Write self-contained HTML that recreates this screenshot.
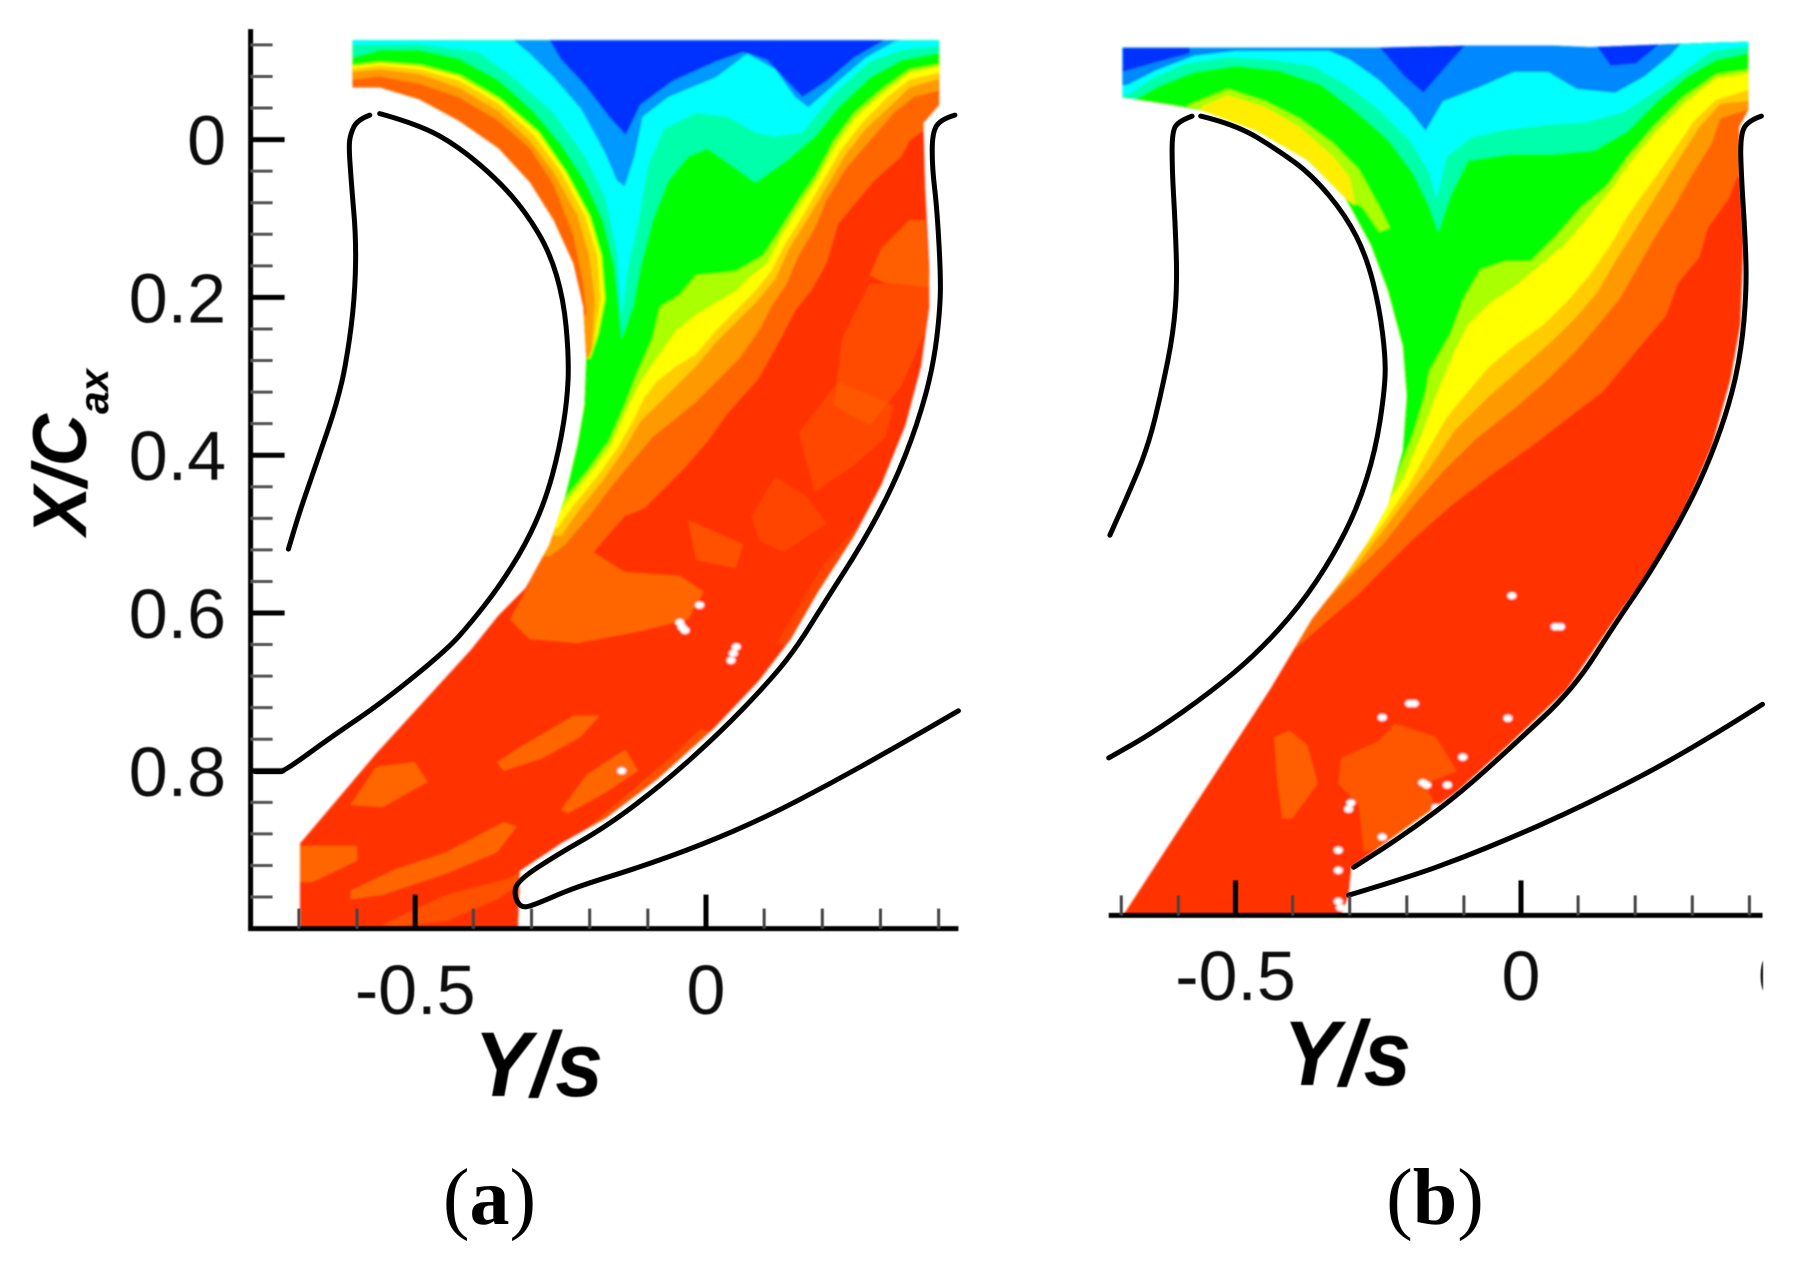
<!DOCTYPE html>
<html lang="en">
<head>
<meta charset="utf-8">
<title>Contour comparison of X/Cax against Y/s</title>
<style>
html,body{margin:0;padding:0;background:#fff;width:1804px;height:1270px;overflow:hidden}
svg{display:block}
text{fill:#111}
.tick{font-family:"Liberation Sans",sans-serif;font-size:70px}
.title{font-family:"Liberation Sans",sans-serif;font-weight:bold;font-style:italic;fill:#000}
.cap{font-family:"Liberation Serif",serif;font-size:80px;fill:#000}
</style>
</head>
<body>
<svg id="chart" xmlns="http://www.w3.org/2000/svg" width="1804" height="1270" viewBox="0 0 1804 1270">
  <defs>
    <filter id="soft" x="-5%" y="-5%" width="110%" height="110%"><feGaussianBlur stdDeviation="1.1"/></filter>
    <filter id="softText" x="-5%" y="-5%" width="110%" height="110%"><feGaussianBlur stdDeviation="0.6"/></filter>
    <clipPath id="clipB"><rect x="1100" y="930" width="663" height="90"/></clipPath>
  </defs>
  <g id="panelA"></g>
  <g id="panelB"></g>
  <g filter="url(#softText)">
    <text class="title" x="474" y="1096" font-size="92" textLength="129" lengthAdjust="spacingAndGlyphs">Y/s</text>
    <text class="title" x="1283" y="1085" font-size="92" textLength="128" lengthAdjust="spacingAndGlyphs">Y/s</text>
    <text class="title" transform="translate(86,535) rotate(-90)" font-size="76" textLength="121" lengthAdjust="spacingAndGlyphs">X/C</text>
    <text class="title" transform="translate(108,414) rotate(-90)" font-size="41" textLength="45" lengthAdjust="spacingAndGlyphs">ax</text>
  </g>
  <text class="cap" x="489.5" y="1224" text-anchor="middle">(<tspan font-weight="bold">a</tspan>)</text>
  <text class="cap" x="1435" y="1224" text-anchor="middle">(<tspan font-weight="bold">b</tspan>)</text>
</svg>
<script>
/* All coordinates below are data values: [Y/s, X/Cax]. */
const yMajorTicks = [0, 0.2, 0.4, 0.6, 0.8];
const yMajorLabels = ['0', '0.2', '0.4', '0.6', '0.8'];
const yMinorTicks = [-0.12, -0.08, -0.04, 0.04, 0.08, 0.12, 0.16, 0.24, 0.28, 0.32, 0.36, 0.44, 0.48, 0.52, 0.56, 0.64, 0.68, 0.72, 0.76, 0.84, 0.88, 0.92, 0.96];
const xMajorTicks = [-0.5, 0];
const xMajorLabelsA = ['-0.5', '0'];
const xMajorLabelTicksB = [-0.5, 0, 0.5];
const xMajorLabelsB = ['-0.5', '0', '0.5'];
const xMinorTicks = [-0.7, -0.6, -0.4, -0.3, -0.2, -0.1, 0.1, 0.2, 0.3, 0.4];

/* ---------- Panel (a) ---------- */
const aBlade1Suction = [[-0.561,-0.033],[-0.493,-0.019],[-0.425,0.009],[-0.357,0.052],[-0.310,0.092],[-0.269,0.142],[-0.245,0.202],[-0.236,0.272],[-0.238,0.327],[-0.252,0.392],[-0.276,0.457],[-0.310,0.513],[-0.357,0.568],[-0.405,0.613],[-0.446,0.647],[-0.556,0.713],[-0.644,0.757],[-0.709,0.792],[-0.730,0.801],[-0.730,0.801],[-0.775,0.801]];
const aBlade1Pressure = [[-0.578,-0.031],[-0.600,-0.025],[-0.612,-0.006],[-0.614,0.012],[-0.609,0.062],[-0.602,0.122],[-0.603,0.187],[-0.612,0.252],[-0.629,0.322],[-0.671,0.413],[-0.698,0.470],[-0.718,0.519]];
const aBlade2Outline = [[0.428,-0.031],[0.404,-0.026],[0.389,-0.009],[0.389,0.036],[0.397,0.087],[0.403,0.162],[0.403,0.212],[0.391,0.287],[0.363,0.362],[0.323,0.437],[0.268,0.513],[0.207,0.583],[0.153,0.647],[0.102,0.692],[0.025,0.751],[-0.073,0.816],[-0.172,0.871],[-0.260,0.908],[-0.325,0.940],[-0.330,0.958],[-0.318,0.974],[-0.295,0.970],[-0.227,0.948],[-0.117,0.923],[-0.008,0.894],[0.102,0.859],[0.212,0.817],[0.321,0.772],[0.434,0.724]];
const aDomain = [[-0.608,-0.126],[0.401,-0.126],[0.401,-0.044],[0.374,-0.021],[0.377,0.062],[0.384,0.162],[0.384,0.212],[0.370,0.287],[0.343,0.362],[0.302,0.437],[0.255,0.502],[0.193,0.573],[0.146,0.633],[0.091,0.686],[0.014,0.746],[-0.084,0.811],[-0.172,0.860],[-0.249,0.892],[-0.320,0.927],[-0.323,1.000],[-0.698,1.000],[-0.698,0.892],[-0.567,0.778],[-0.405,0.647],[-0.357,0.603],[-0.310,0.568],[-0.269,0.513],[-0.242,0.452],[-0.221,0.387],[-0.209,0.337],[-0.206,0.277],[-0.211,0.212],[-0.228,0.157],[-0.262,0.102],[-0.303,0.054],[-0.357,0.011],[-0.425,-0.024],[-0.493,-0.051],[-0.561,-0.066],[-0.608,-0.066]];
const aDarkOrange = [[-0.622,-0.130],[0.409,-0.130],[0.409,-0.030],[0.380,-0.015],[0.350,0.001],[0.336,0.021],[0.289,0.052],[0.255,0.082],[0.227,0.107],[0.207,0.157],[0.180,0.192],[0.153,0.217],[0.132,0.247],[0.091,0.302],[0.037,0.347],[0.003,0.382],[-0.038,0.417],[-0.079,0.447],[-0.106,0.467],[-0.140,0.477],[-0.194,0.523],[-0.140,0.548],[-0.045,0.553],[-0.004,0.573],[-0.031,0.608],[-0.113,0.623],[-0.221,0.638],[-0.303,0.633],[-0.337,0.608],[-0.303,0.563],[-0.357,0.513],[-0.650,0.300]];
const aOrange = [[-0.622,-0.130],[0.409,-0.130],[0.409,-0.064],[0.357,-0.054],[0.323,-0.034],[0.282,0.001],[0.241,0.036],[0.207,0.077],[0.187,0.112],[0.159,0.147],[0.139,0.182],[0.112,0.212],[0.091,0.242],[0.057,0.277],[0.024,0.302],[-0.017,0.332],[-0.058,0.357],[-0.092,0.377],[-0.126,0.407],[-0.160,0.437],[-0.201,0.477],[-0.242,0.513],[-0.269,0.528],[-0.300,0.528],[-0.260,0.400],[-0.225,0.222],[-0.205,0.222],[-0.211,0.182],[-0.228,0.122],[-0.262,0.057],[-0.303,0.011],[-0.357,-0.024],[-0.425,-0.054],[-0.493,-0.071],[-0.561,-0.080],[-0.608,-0.076],[-0.622,-0.076]];
const aAmber = [[-0.622,-0.130],[0.409,-0.130],[0.409,-0.079],[0.350,-0.066],[0.319,-0.044],[0.275,-0.014],[0.238,0.021],[0.204,0.064],[0.176,0.099],[0.142,0.139],[0.119,0.177],[0.085,0.207],[0.051,0.232],[0.017,0.257],[-0.017,0.287],[-0.051,0.312],[-0.085,0.337],[-0.113,0.357],[-0.140,0.392],[-0.177,0.432],[-0.221,0.472],[-0.249,0.502],[-0.300,0.502],[-0.260,0.400],[-0.225,0.277],[-0.198,0.277],[-0.191,0.202],[-0.201,0.147],[-0.221,0.097],[-0.262,0.041],[-0.303,0.001],[-0.357,-0.036],[-0.425,-0.066],[-0.493,-0.083],[-0.561,-0.089],[-0.608,-0.086],[-0.622,-0.086]];
const aYellow = [[-0.622,-0.130],[0.409,-0.130],[0.409,-0.086],[0.350,-0.076],[0.312,-0.054],[0.268,-0.021],[0.231,0.014],[0.197,0.057],[0.170,0.092],[0.136,0.132],[0.112,0.167],[0.078,0.197],[0.044,0.222],[0.017,0.242],[-0.017,0.272],[-0.051,0.287],[-0.085,0.307],[-0.106,0.327],[-0.126,0.357],[-0.153,0.392],[-0.187,0.427],[-0.232,0.467],[-0.255,0.492],[-0.300,0.492],[-0.260,0.400],[-0.225,0.277],[-0.202,0.277],[-0.194,0.262],[-0.181,0.202],[-0.187,0.147],[-0.208,0.097],[-0.249,0.041],[-0.296,-0.006],[-0.357,-0.046],[-0.425,-0.075],[-0.493,-0.089],[-0.561,-0.094],[-0.608,-0.090],[-0.622,-0.090]];
const aLime = [[-0.622,-0.130],[0.409,-0.130],[0.409,-0.094],[0.350,-0.085],[0.306,-0.060],[0.258,-0.029],[0.224,0.006],[0.190,0.052],[0.163,0.082],[0.129,0.122],[0.105,0.157],[0.078,0.172],[0.051,0.192],[0.017,0.207],[-0.017,0.222],[-0.051,0.242],[-0.085,0.277],[-0.113,0.307],[-0.136,0.342],[-0.163,0.387],[-0.198,0.422],[-0.242,0.462],[-0.259,0.482],[-0.300,0.482],[-0.260,0.400],[-0.225,0.277],[-0.201,0.277],[-0.187,0.247],[-0.175,0.202],[-0.181,0.147],[-0.201,0.097],[-0.242,0.041],[-0.289,-0.009],[-0.357,-0.051],[-0.425,-0.080],[-0.493,-0.093],[-0.561,-0.097],[-0.608,-0.093],[-0.622,-0.093]];
const aGreen = [[-0.622,-0.130],[0.409,-0.130],[0.409,-0.097],[0.350,-0.089],[0.302,-0.064],[0.255,-0.034],[0.220,0.001],[0.187,0.047],[0.159,0.077],[0.125,0.117],[0.098,0.147],[0.051,0.167],[-0.017,0.172],[-0.045,0.197],[-0.079,0.212],[-0.092,0.252],[-0.119,0.297],[-0.140,0.337],[-0.167,0.382],[-0.201,0.417],[-0.245,0.457],[-0.262,0.477],[-0.300,0.477],[-0.260,0.400],[-0.225,0.277],[-0.199,0.277],[-0.185,0.247],[-0.173,0.202],[-0.179,0.147],[-0.199,0.097],[-0.240,0.041],[-0.287,-0.010],[-0.355,-0.053],[-0.423,-0.082],[-0.491,-0.095],[-0.561,-0.099],[-0.608,-0.095],[-0.622,-0.095]];
const aAqua = [[-0.622,-0.130],[0.409,-0.130],[0.409,-0.111],[0.336,-0.101],[0.282,-0.079],[0.227,-0.041],[0.187,-0.004],[0.139,0.026],[0.085,0.054],[0.051,0.036],[0.003,0.011],[-0.031,0.021],[-0.065,0.052],[-0.092,0.102],[-0.113,0.162],[-0.126,0.212],[-0.145,0.252],[-0.157,0.162],[-0.177,0.102],[-0.208,0.052],[-0.249,0.006],[-0.296,-0.036],[-0.357,-0.076],[-0.425,-0.103],[-0.493,-0.114],[-0.561,-0.114],[-0.608,-0.104],[-0.622,-0.104]];
const aCyan = [[-0.622,-0.130],[0.409,-0.130],[0.409,-0.119],[0.336,-0.114],[0.282,-0.099],[0.220,-0.059],[0.166,-0.009],[0.119,-0.004],[0.085,-0.009],[0.037,-0.029],[-0.017,-0.034],[-0.072,-0.014],[-0.099,0.031],[-0.116,0.102],[-0.134,0.162],[-0.145,0.222],[-0.153,0.142],[-0.174,0.072],[-0.208,0.021],[-0.262,-0.034],[-0.323,-0.074],[-0.391,-0.111],[-0.493,-0.121],[-0.608,-0.120],[-0.622,-0.120]];
const aLightBlue = [[-0.337,-0.130],[0.357,-0.130],[0.323,-0.124],[0.275,-0.104],[0.227,-0.074],[0.176,-0.041],[0.153,-0.054],[0.119,-0.089],[0.071,-0.109],[0.017,-0.079],[-0.065,-0.054],[-0.109,-0.029],[-0.123,0.021],[-0.140,0.059],[-0.153,0.052],[-0.174,0.016],[-0.215,-0.039],[-0.262,-0.079],[-0.303,-0.109]];
const aBlue = [[-0.272,-0.130],[0.316,-0.130],[0.255,-0.104],[0.207,-0.074],[0.166,-0.054],[0.139,-0.074],[0.105,-0.101],[0.064,-0.111],[0.017,-0.099],[-0.058,-0.074],[-0.113,-0.044],[-0.138,-0.006],[-0.167,-0.029],[-0.208,-0.069],[-0.249,-0.101]];
const aStreak2 = [[-0.359,0.789],[-0.315,0.768],[-0.227,0.730],[-0.183,0.730],[-0.216,0.757],[-0.282,0.784],[-0.348,0.800]];
const aStreak3 = [[-0.611,0.843],[-0.567,0.795],[-0.501,0.789],[-0.479,0.814],[-0.556,0.846]];
const aStreak4 = [[-0.698,0.895],[-0.600,0.895],[-0.600,0.914],[-0.677,0.941],[-0.698,0.941]];
const aStreak5 = [[-0.611,0.952],[-0.534,0.925],[-0.446,0.903],[-0.348,0.865],[-0.326,0.871],[-0.359,0.903],[-0.446,0.930],[-0.556,0.957],[-0.611,0.963]];
const aStreak6 = [[-0.249,0.849],[-0.205,0.805],[-0.139,0.773],[-0.117,0.800],[-0.172,0.827],[-0.238,0.854]];
const aMottleWallLower = [[-0.556,0.995],[-0.446,0.957],[-0.337,0.936],[-0.227,0.887],[-0.062,0.784],[-0.008,0.746],[0.025,0.757],[-0.062,0.816],[-0.172,0.865],[-0.304,0.936],[-0.359,0.963],[-0.446,0.990],[-0.534,0.998]];
const aMottleWallTop = [[0.282,0.172],[0.302,0.137],[0.350,0.102],[0.377,0.102],[0.384,0.187],[0.309,0.182]];
const aMottleWallMid = [[0.234,0.252],[0.282,0.182],[0.384,0.187],[0.377,0.242],[0.336,0.312],[0.282,0.362],[0.220,0.337]];
const aMottleCentre = [[0.159,0.372],[0.227,0.307],[0.323,0.337],[0.309,0.377],[0.255,0.412],[0.187,0.447]];
const aMottleLow = [[0.078,0.477],[0.119,0.427],[0.173,0.452],[0.207,0.487],[0.132,0.523],[0.091,0.508]];
const aMottleInner = [[-0.031,0.482],[0.064,0.513],[0.051,0.543],[-0.017,0.533]];
const aMottleWallEdge = [[0.120,0.640],[0.200,0.540],[0.260,0.490],[0.230,0.560],[0.150,0.640]];
const aSpecks = [[-0.011,0.590],[-0.041,0.618],[-0.036,0.622],[-0.045,0.612],[0.047,0.651],[0.052,0.643],[0.043,0.660],[-0.145,0.800]];

/* ---------- Panel (b) ---------- */
const bBlade1Suction = [[-0.561,-0.030],[-0.499,-0.019],[-0.425,0.014],[-0.366,0.046],[-0.307,0.098],[-0.270,0.152],[-0.248,0.217],[-0.237,0.282],[-0.239,0.325],[-0.255,0.401],[-0.285,0.472],[-0.329,0.537],[-0.388,0.602],[-0.462,0.662],[-0.543,0.712],[-0.643,0.764],[-0.722,0.797]];
const bBlade1Pressure = [[-0.576,-0.030],[-0.598,-0.024],[-0.611,-0.011],[-0.611,0.038],[-0.606,0.103],[-0.602,0.184],[-0.609,0.250],[-0.628,0.320],[-0.653,0.396],[-0.690,0.461],[-0.720,0.510]];
const bBlade2Suction = [[0.421,-0.030],[0.397,-0.024],[0.384,-0.005],[0.386,0.049],[0.393,0.130],[0.395,0.195],[0.386,0.271],[0.367,0.336],[0.334,0.407],[0.290,0.477],[0.231,0.553],[0.165,0.624],[0.091,0.709],[-0.014,0.781],[-0.104,0.841],[-0.194,0.891],[-0.293,0.938]];
const bBlade2Pressure = [[-0.302,0.974],[-0.194,0.950],[-0.104,0.926],[-0.014,0.899],[0.075,0.870],[0.165,0.838],[0.255,0.803],[0.345,0.764],[0.423,0.728]];
const bDomain = [[-0.698,-0.118],[-0.263,-0.118],[-0.086,-0.121],[0.054,-0.121],[0.121,-0.119],[0.342,-0.125],[0.398,-0.126],[0.398,-0.038],[0.382,-0.016],[0.384,0.049],[0.390,0.130],[0.384,0.239],[0.367,0.309],[0.334,0.396],[0.290,0.472],[0.231,0.553],[0.165,0.618],[0.080,0.709],[-0.023,0.781],[-0.113,0.841],[-0.203,0.888],[-0.297,0.938],[-0.302,0.974],[-0.315,1.000],[-0.697,1.000],[-0.440,0.709],[-0.366,0.618],[-0.314,0.569],[-0.270,0.521],[-0.233,0.472],[-0.207,0.401],[-0.200,0.331],[-0.207,0.266],[-0.233,0.195],[-0.263,0.136],[-0.307,0.076],[-0.373,0.027],[-0.462,-0.011],[-0.561,-0.038],[-0.624,-0.046],[-0.698,-0.054]];
const bDarkOrange = [[-0.733,-0.132],[0.417,-0.132],[0.417,0.049],[0.378,0.049],[0.364,0.076],[0.327,0.114],[0.312,0.152],[0.275,0.185],[0.253,0.228],[0.216,0.260],[0.179,0.293],[0.143,0.325],[0.084,0.358],[0.017,0.396],[-0.056,0.434],[-0.123,0.472],[-0.189,0.515],[-0.241,0.553],[-0.285,0.586],[-0.336,0.618],[-0.395,0.656],[-0.460,0.650],[-0.733,0.346]];
const bOrange = [[-0.733,-0.132],[0.417,-0.132],[0.417,-0.043],[0.349,-0.027],[0.334,0.005],[0.297,0.049],[0.268,0.087],[0.231,0.130],[0.202,0.168],[0.172,0.206],[0.135,0.239],[0.098,0.271],[0.047,0.309],[-0.012,0.347],[-0.078,0.385],[-0.137,0.428],[-0.189,0.472],[-0.241,0.521],[-0.285,0.553],[-0.336,0.591],[-0.733,0.346]];
const bAmber = [[-0.733,-0.132],[0.417,-0.132],[0.417,-0.051],[0.349,-0.046],[0.312,-0.016],[0.275,0.027],[0.238,0.071],[0.202,0.114],[0.165,0.157],[0.135,0.195],[0.098,0.228],[0.054,0.260],[0.003,0.293],[-0.056,0.331],[-0.115,0.374],[-0.160,0.423],[-0.204,0.467],[-0.248,0.510],[-0.292,0.553],[-0.322,0.575],[-0.733,0.346]];
const bYellow = [[-0.733,-0.132],[0.417,-0.132],[0.417,-0.068],[0.342,-0.051],[0.301,-0.022],[0.261,0.022],[0.224,0.060],[0.187,0.098],[0.157,0.136],[0.121,0.174],[0.084,0.206],[0.039,0.239],[-0.012,0.266],[-0.056,0.293],[-0.093,0.325],[-0.130,0.358],[-0.160,0.396],[-0.196,0.445],[-0.241,0.494],[-0.285,0.537],[-0.307,0.559],[-0.733,0.346]];
const bLime = [[-0.733,-0.132],[0.417,-0.132],[0.417,-0.087],[0.342,-0.079],[0.290,-0.049],[0.238,-0.011],[0.194,0.027],[0.157,0.065],[0.121,0.098],[0.076,0.136],[0.032,0.163],[-0.012,0.190],[-0.056,0.212],[-0.093,0.239],[-0.115,0.271],[-0.137,0.309],[-0.152,0.336],[-0.174,0.380],[-0.204,0.434],[-0.241,0.477],[-0.285,0.526],[-0.733,0.346]];
const bGreen = [[-0.733,-0.132],[0.417,-0.132],[0.417,-0.092],[0.342,-0.084],[0.283,-0.054],[0.231,-0.016],[0.187,0.022],[0.150,0.060],[0.106,0.087],[0.061,0.125],[0.017,0.157],[-0.027,0.157],[-0.071,0.168],[-0.101,0.206],[-0.123,0.250],[-0.160,0.298],[-0.167,0.326],[-0.189,0.380],[-0.218,0.434],[-0.248,0.483],[-0.285,0.537],[-0.733,0.346]];
const bWallLime = [[-0.587,-0.043],[-0.513,-0.065],[-0.447,-0.049],[-0.388,-0.027],[-0.329,0.005],[-0.285,0.038],[-0.248,0.087],[-0.230,0.114],[-0.248,0.119],[-0.278,0.087],[-0.307,0.076],[-0.373,0.027],[-0.462,-0.011],[-0.561,-0.038]];
const bWallYellow = [[-0.558,-0.043],[-0.513,-0.057],[-0.447,-0.041],[-0.388,-0.016],[-0.329,0.022],[-0.300,0.049],[-0.290,0.085],[-0.307,0.076],[-0.373,0.027],[-0.462,-0.011],[-0.561,-0.038]];
const bAqua = [[-0.706,-0.132],[0.417,-0.132],[0.417,-0.114],[0.342,-0.103],[0.290,-0.081],[0.238,-0.049],[0.187,-0.011],[0.128,0.014],[0.054,0.019],[-0.020,0.019],[-0.093,0.027],[-0.123,0.071],[-0.145,0.119],[-0.160,0.087],[-0.189,0.043],[-0.233,0.000],[-0.292,-0.038],[-0.351,-0.071],[-0.425,-0.089],[-0.499,-0.095],[-0.572,-0.087],[-0.631,-0.070],[-0.676,-0.052],[-0.706,-0.052]];
const bCyan = [[-0.706,-0.132],[0.417,-0.132],[0.417,-0.122],[0.334,-0.114],[0.283,-0.087],[0.231,-0.060],[0.179,-0.035],[0.113,-0.022],[0.047,-0.019],[-0.020,-0.013],[-0.086,-0.003],[-0.130,0.022],[-0.148,0.076],[-0.160,0.043],[-0.196,0.000],[-0.248,-0.038],[-0.307,-0.071],[-0.366,-0.095],[-0.440,-0.103],[-0.513,-0.106],[-0.587,-0.098],[-0.646,-0.079],[-0.690,-0.057],[-0.706,-0.057]];
const bLightBlue = [[-0.706,-0.132],[0.290,-0.132],[0.261,-0.108],[0.216,-0.081],[0.165,-0.060],[0.098,-0.065],[0.047,-0.087],[-0.012,-0.087],[-0.071,-0.068],[-0.137,-0.049],[-0.167,-0.011],[-0.196,-0.038],[-0.248,-0.076],[-0.300,-0.103],[-0.336,-0.114],[-0.499,-0.114],[-0.572,-0.108],[-0.639,-0.089],[-0.690,-0.070],[-0.706,-0.070]];
const bBlueCentre = [[-0.255,-0.125],[-0.093,-0.125],[-0.130,-0.095],[-0.171,-0.060],[-0.204,-0.081]];
const bBlueRight = [[0.128,-0.125],[0.246,-0.125],[0.202,-0.098],[0.157,-0.095]];
const bBlueInlet = [[-0.698,-0.125],[-0.580,-0.125],[-0.580,-0.111],[-0.646,-0.098],[-0.698,-0.087]];
const bStreak1 = [[-0.432,0.770],[-0.405,0.762],[-0.374,0.781],[-0.356,0.830],[-0.401,0.875],[-0.418,0.875],[-0.427,0.825]];
const bStreak2 = [[-0.315,0.797],[-0.248,0.775],[-0.221,0.753],[-0.149,0.770],[-0.113,0.814],[-0.167,0.830],[-0.149,0.863],[-0.203,0.902],[-0.275,0.918],[-0.284,0.858],[-0.320,0.830]];
const bSpecks = [[0.069,0.628],[0.060,0.628],[-0.187,0.727],[-0.195,0.727],[-0.243,0.745],[-0.023,0.746],[-0.102,0.796],[-0.165,0.832],[-0.172,0.829],[-0.129,0.832],[-0.302,0.863],[-0.298,0.855],[-0.149,0.861],[-0.243,0.899],[-0.320,0.916],[-0.320,0.942],[-0.320,0.982],[-0.316,0.990],[-0.016,0.588]];

/* Axis functions: data value to page position. */
function aX(v) { return 706 + 581.6 * v; }
function aY(v) { return 139.6 + 789 * v; }
function bX(v) { return 1521 + 571 * v; }
function bY(v) { return 139.4 + 776 * v; }

const SVG_NS = 'http://www.w3.org/2000/svg';

function make(tag, parent, attrs) {
  const el = document.createElementNS(SVG_NS, tag);
  for (const k in attrs) el.setAttribute(k, attrs[k]);
  parent.appendChild(el);
  return el;
}

function polyPath(points, sx, sy) {
  return points.map(function (p, i) {
    return (i ? 'L' : 'M') + sx(p[0]).toFixed(1) + ' ' + sy(p[1]).toFixed(1);
  }).join('') + 'Z';
}

function smoothPath(points, sx, sy) {
  const p = points.map(function (q) { return [sx(q[0]), sy(q[1])]; });
  let d = 'M' + p[0][0].toFixed(1) + ' ' + p[0][1].toFixed(1);
  for (let i = 1; i < p.length - 1; i++) {
    const mx = (p[i][0] + p[i + 1][0]) / 2, my = (p[i][1] + p[i + 1][1]) / 2;
    d += 'Q' + p[i][0].toFixed(1) + ' ' + p[i][1].toFixed(1) + ' ' + mx.toFixed(1) + ' ' + my.toFixed(1);
  }
  const last = p[p.length - 1];
  d += 'L' + last[0].toFixed(1) + ' ' + last[1].toFixed(1);
  return d;
}

function drawBand(parent, sx, sy, label, color, points, opacity) {
  const el = make('path', parent, { d: polyPath(points, sx, sy), fill: color, 'fill-opacity': opacity === undefined ? 1 : opacity });
  
  
}

function drawBlade(parent, sx, sy, label, points) {
  const el = make('path', parent, { d: smoothPath(points, sx, sy), fill: 'none', stroke: '#000', 'stroke-width': 5, 'stroke-linecap': 'round', 'stroke-linejoin': 'round' });
  
  
}

function drawSpecks(parent, sx, sy, label, points) {
  points.forEach(function (p) {
    const el = make('ellipse', parent, { cx: sx(p[0]), cy: sy(p[1]), rx: 4.5, ry: 3.5, fill: '#fff' });
    
    
  });
}

function drawLine(parent, x1, y1, x2, y2, width, color, label) {
  const el = make('line', parent, { x1: x1, y1: y1, x2: x2, y2: y2, stroke: color, 'stroke-width': width });
  
  
}

function drawLabel(parent, x, y, anchor, value, label) {
  const el = make('text', parent, { x: x, y: y, 'text-anchor': anchor, class: 'tick' });
  el.textContent = value;
  
  
  return el;
}

function drawField(parent, id, sx, sy, domain) {
  const defs = document.querySelector('defs');
  const clip = make('clipPath', defs, { id: id });
  
  
  const clipShape = make('path', clip, { d: polyPath(domain, sx, sy) });
  
  
  const soft = make('g', parent, { filter: 'url(#soft)' });
  
  
  const field = make('g', soft, { 'clip-path': 'url(#' + id + ')' });
  
  
  return field;
}

/* ---- Panel (a) drawing ---- */
const panelA = document.getElementById('panelA');
const fieldA = drawField(panelA, 'clipDomainA', aX, aY, aDomain);
drawBand(fieldA, aX, aY, 'band-red', '#ff3300', aDomain);
drawBand(fieldA, aX, aY, 'mottle-wall-lower', '#ff6600', aMottleWallLower, 0.6);
drawBand(fieldA, aX, aY, 'mottle-wall-mid', '#ff6600', aMottleWallMid, 0.5);
drawBand(fieldA, aX, aY, 'mottle-wall-top', '#ff6600', aMottleWallTop, 0.85);
drawBand(fieldA, aX, aY, 'mottle-centre', '#ff6600', aMottleCentre, 0.4);
drawBand(fieldA, aX, aY, 'mottle-low', '#ff6600', aMottleLow, 0.35);
drawBand(fieldA, aX, aY, 'mottle-inner', '#ff6600', aMottleInner, 0.6);
drawBand(fieldA, aX, aY, 'mottle-wall-edge', '#ff6600', aMottleWallEdge, 0.35);
drawBand(fieldA, aX, aY, 'streak-2', '#ff6600', aStreak2);
drawBand(fieldA, aX, aY, 'streak-3', '#ff6600', aStreak3);
drawBand(fieldA, aX, aY, 'streak-4', '#ff6600', aStreak4);
drawBand(fieldA, aX, aY, 'streak-5', '#ff6600', aStreak5);
drawBand(fieldA, aX, aY, 'streak-6', '#ff6600', aStreak6);
drawBand(fieldA, aX, aY, 'band-dark-orange', '#ff6600', aDarkOrange);
drawBand(fieldA, aX, aY, 'band-orange', '#ff9900', aOrange);
drawBand(fieldA, aX, aY, 'band-amber', '#ffcc00', aAmber);
drawBand(fieldA, aX, aY, 'band-yellow', '#ffff00', aYellow);
drawBand(fieldA, aX, aY, 'band-lime', '#aaff00', aLime);
drawBand(fieldA, aX, aY, 'band-green', '#00ff00', aGreen);
drawBand(fieldA, aX, aY, 'band-aqua', '#00ffaa', aAqua);
drawBand(fieldA, aX, aY, 'band-cyan', '#00ffff', aCyan);
drawBand(fieldA, aX, aY, 'band-light-blue', '#0099ff', aLightBlue);
drawBand(fieldA, aX, aY, 'band-blue', '#0033ff', aBlue);
drawSpecks(fieldA, aX, aY, 'white-speck', aSpecks);
drawBlade(panelA, aX, aY, 'blade-1-suction', aBlade1Suction);
drawBlade(panelA, aX, aY, 'blade-1-pressure', aBlade1Pressure);
drawBlade(panelA, aX, aY, 'blade-2-outline', aBlade2Outline);

const axesA = make('g', panelA, { filter: 'url(#softText)' });


drawLine(axesA, aX(-0.783), aY(-0.14), aX(-0.783), aY(1.003), 5, '#000', 'y-axis-line');
drawLine(axesA, aX(-0.787), aY(1), aX(0.434), aY(1), 5, '#000', 'x-axis-line');
yMinorTicks.forEach(function (v) {
  drawLine(axesA, aX(-0.783), aY(v), aX(-0.783) + 22, aY(v), 3, '#555', 'y-minor-tick');
});
yMajorTicks.forEach(function (v, i) {
  drawLine(axesA, aX(-0.783), aY(v), aX(-0.783) + 34, aY(v), 5, '#000', 'y-major-tick');
  drawLabel(axesA, 226, aY(v) + 25, 'end', yMajorLabels[i], 'y-tick-label');
});
xMinorTicks.forEach(function (v) {
  drawLine(axesA, aX(v), aY(1), aX(v), aY(1) - 20, 3, '#444', 'x-minor-tick');
});
xMajorTicks.forEach(function (v, i) {
  drawLine(axesA, aX(v), aY(1), aX(v), aY(1) - 34, 5, '#000', 'x-major-tick');
  drawLabel(axesA, aX(v), 1014, 'middle', xMajorLabelsA[i], 'x-tick-label');
});

/* ---- Panel (b) drawing ---- */
const panelB = document.getElementById('panelB');
const fieldB = drawField(panelB, 'clipDomainB', bX, bY, bDomain);
drawBand(fieldB, bX, bY, 'band-red', '#ff3300', bDomain);
drawBand(fieldB, bX, bY, 'streak-1', '#ff6600', bStreak1, 0.85);
drawBand(fieldB, bX, bY, 'streak-2', '#ff6600', bStreak2, 0.7);
drawBand(fieldB, bX, bY, 'band-dark-orange', '#ff6600', bDarkOrange);
drawBand(fieldB, bX, bY, 'band-orange', '#ff9900', bOrange);
drawBand(fieldB, bX, bY, 'band-amber', '#ffcc00', bAmber);
drawBand(fieldB, bX, bY, 'band-yellow', '#ffff00', bYellow);
drawBand(fieldB, bX, bY, 'band-lime', '#aaff00', bLime);
drawBand(fieldB, bX, bY, 'band-green', '#00ff00', bGreen);
drawBand(fieldB, bX, bY, 'band-wall-lime', '#aaff00', bWallLime);
drawBand(fieldB, bX, bY, 'band-wall-yellow', '#ffee00', bWallYellow);
drawBand(fieldB, bX, bY, 'band-aqua', '#00ffaa', bAqua);
drawBand(fieldB, bX, bY, 'band-cyan', '#00ffff', bCyan);
drawBand(fieldB, bX, bY, 'band-light-blue', '#0088ff', bLightBlue);
drawBand(fieldB, bX, bY, 'band-blue-centre', '#0033ff', bBlueCentre);
drawBand(fieldB, bX, bY, 'band-blue-right', '#0033ff', bBlueRight);
drawBand(fieldB, bX, bY, 'band-blue-inlet', '#0033ff', bBlueInlet);
drawSpecks(fieldB, bX, bY, 'white-speck', bSpecks);
drawBlade(panelB, bX, bY, 'blade-1-suction', bBlade1Suction);
drawBlade(panelB, bX, bY, 'blade-1-pressure', bBlade1Pressure);
drawBlade(panelB, bX, bY, 'blade-2-suction', bBlade2Suction);
drawBlade(panelB, bX, bY, 'blade-2-pressure', bBlade2Pressure);

const axesB = make('g', panelB, { filter: 'url(#softText)' });


drawLine(axesB, bX(-0.722), bY(1), bX(0.423), bY(1), 5, '#000', 'x-axis-line');
xMinorTicks.forEach(function (v) {
  drawLine(axesB, bX(v), bY(1), bX(v), bY(1) - 20, 3, '#444', 'x-minor-tick');
});
xMajorTicks.forEach(function (v) {
  drawLine(axesB, bX(v), bY(1), bX(v), bY(1) - 35, 5, '#000', 'x-major-tick');
});
const labelsB = make('g', axesB, { 'clip-path': 'url(#clipB)' });


xMajorLabelTicksB.forEach(function (v, i) {
  drawLabel(labelsB, bX(v), 1000, 'middle', xMajorLabelsB[i], 'x-tick-label');
});
</script>
</body>
</html>
